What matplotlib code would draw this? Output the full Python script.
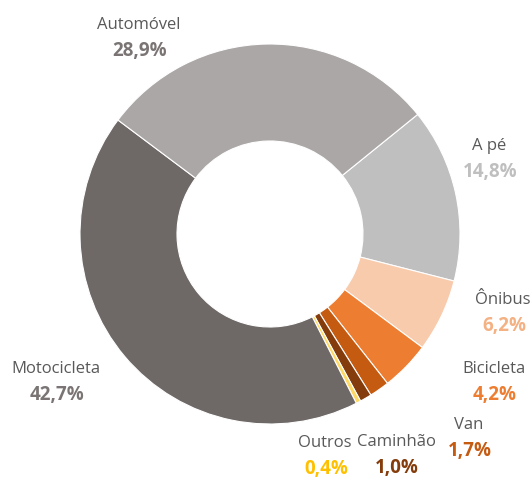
import matplotlib.pyplot as plt

# data
categorias = ["A pé", "Ônibus", "Bicicleta", "Van", "Caminhão", "Outros", "Motocicleta", "Automóvel"]
percentuais = [14.8, 6.2, 4.2, 1.7, 1.0, 0.4, 42.7, 28.9]

# estilo
cores = ["#bfbfbf", "#f8cbad", "#ed7d31", "#c55a11", "#843c0c", "#ffd966", "#6e6867", "#aba7a6"]
cores_pct = ["#bfbfbf", "#f4b183", "#ed7d31", "#c55a11", "#843c0c", "#ffc000", "#7a7574", "#7a7574"]
# posicao dos rotulos em pixels (x, y a partir do topo)
pos_rotulo = [(489, 146), (503, 300), (494, 369), (469, 425), (396, 442), (325, 443), (56, 369), (139, 25)]

W, H = 532, 483
fig = plt.figure(figsize=(W / 100, H / 100), dpi=100)
ax = fig.add_axes([0, 0, 1, 1])
ax.set_xlim(0, W)
ax.set_ylim(0, H)
ax.set_aspect("equal")
ax.axis("off")

ax.pie(percentuais, colors=cores, startangle=39, counterclock=False,
       center=(270, H - 234), radius=190,
       wedgeprops=dict(width=97, edgecolor="white", linewidth=0.8))
ax.set_xlim(0, W)
ax.set_ylim(0, H)

for nome, v, cp, (x, y) in zip(categorias, percentuais, cores_pct, pos_rotulo):
    ax.text(x, H - y, nome, ha="center", va="center", fontsize=12,
            color="#595959", family="Open Sans")
    ax.text(x + 1, H - y - 26, f"{v:.1f}%".replace(".", ","), ha="center", va="center",
            fontsize=13.5, fontweight="bold", color=cp, family="Open Sans")

fig.savefig("out.png", dpi=100)
